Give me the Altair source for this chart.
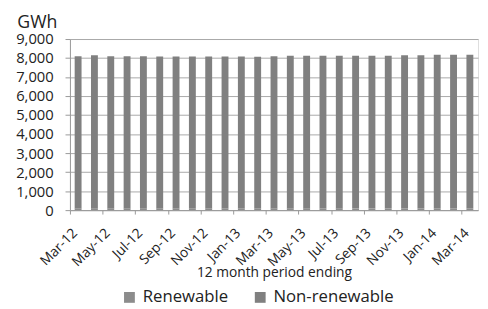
import altair as alt
import pandas as pd

months = ["Mar-12","Apr-12","May-12","Jun-12","Jul-12","Aug-12","Sep-12","Oct-12","Nov-12","Dec-12",
          "Jan-13","Feb-13","Mar-13","Apr-13","May-13","Jun-13","Jul-13","Aug-13","Sep-13","Oct-13",
          "Nov-13","Dec-13","Jan-14","Feb-14","Mar-14"]
renewable = [90, 92, 90, 90, 91, 90, 89, 89, 88, 88, 88, 87, 90, 91, 92, 92, 92, 93, 93, 93, 95, 95, 96, 96, 96]
non_renewable = [8010, 8048, 8010, 8010, 8009, 7995, 7996, 7996, 7997, 7997, 7997, 7983, 8010, 8029, 8028,
                 8028, 8028, 8027, 8027, 8027, 8055, 8055, 8074, 8074, 8074]
series = ["Renewable", "Non-renewable"]
colors = ["#8c8c8c", "#808080"]

rows = []
for i, m in enumerate(months):
    rows.append({"month": m, "series": "Renewable", "value": renewable[i], "ord": 0})
    rows.append({"month": m, "series": "Non-renewable", "value": non_renewable[i], "ord": 1})
df = pd.DataFrame(rows)

font = "Open Sans"
label_months = months[::2]

chart = alt.Chart(df).mark_bar(size=7).encode(
    x=alt.X("month:N", sort=months, scale=alt.Scale(paddingInner=0.55, paddingOuter=0.275),
            axis=alt.Axis(title="12 month period ending", values=label_months, labelAngle=-45,
                          labelFontSize=14, labelFont=font, labelColor="#222",
                          titleFont=font, titleFontSize=14, titleFontWeight="normal", titleColor="#222",
                          titleY=68, titleBaseline="alphabetic",
                          domainColor="#999", tickColor="#999", tickSize=4, tickOffset=-8.3,
                          labelPadding=12, grid=False)),
    y=alt.Y("value:Q", stack=True, scale=alt.Scale(domain=[0, 9000], nice=False),
            axis=alt.Axis(title="GWh", titleAngle=0, titleAlign="left", titleX=-54, titleY=-12,
                          titleBaseline="alphabetic", titleFont=font, titleFontSize=18,
                          titleFontWeight="normal", titleColor="#222",
                          values=list(range(0, 9001, 1000)), format=",.0f", labelFont=font,
                          labelFontSize=15, labelColor="#222", labelPadding=12,
                          tickSize=5, tickColor="#999", domainColor="#999",
                          gridColor="#a8a8a8", gridWidth=1)),
    color=alt.Color("series:N", scale=alt.Scale(domain=series, range=colors),
                    legend=alt.Legend(title=None, orient="none", legendX=52, legendY=254,
                                      direction="horizontal", symbolType="square", symbolSize=121,
                                      symbolStrokeWidth=0, labelFont=font, labelFontSize=17,
                                      labelColor="#222", columnPadding=24, labelOffset=5)),
    order=alt.Order("ord:Q"),
).properties(
    width=415, height=174,
    autosize=alt.AutoSizeParams(type="none"),
    padding={"left": 63, "top": 29, "right": 2, "bottom": 98},
).configure_view(stroke=None).configure(background="white")

chart.save("out.html", embed_options={"renderer": "svg", "actions": False})
